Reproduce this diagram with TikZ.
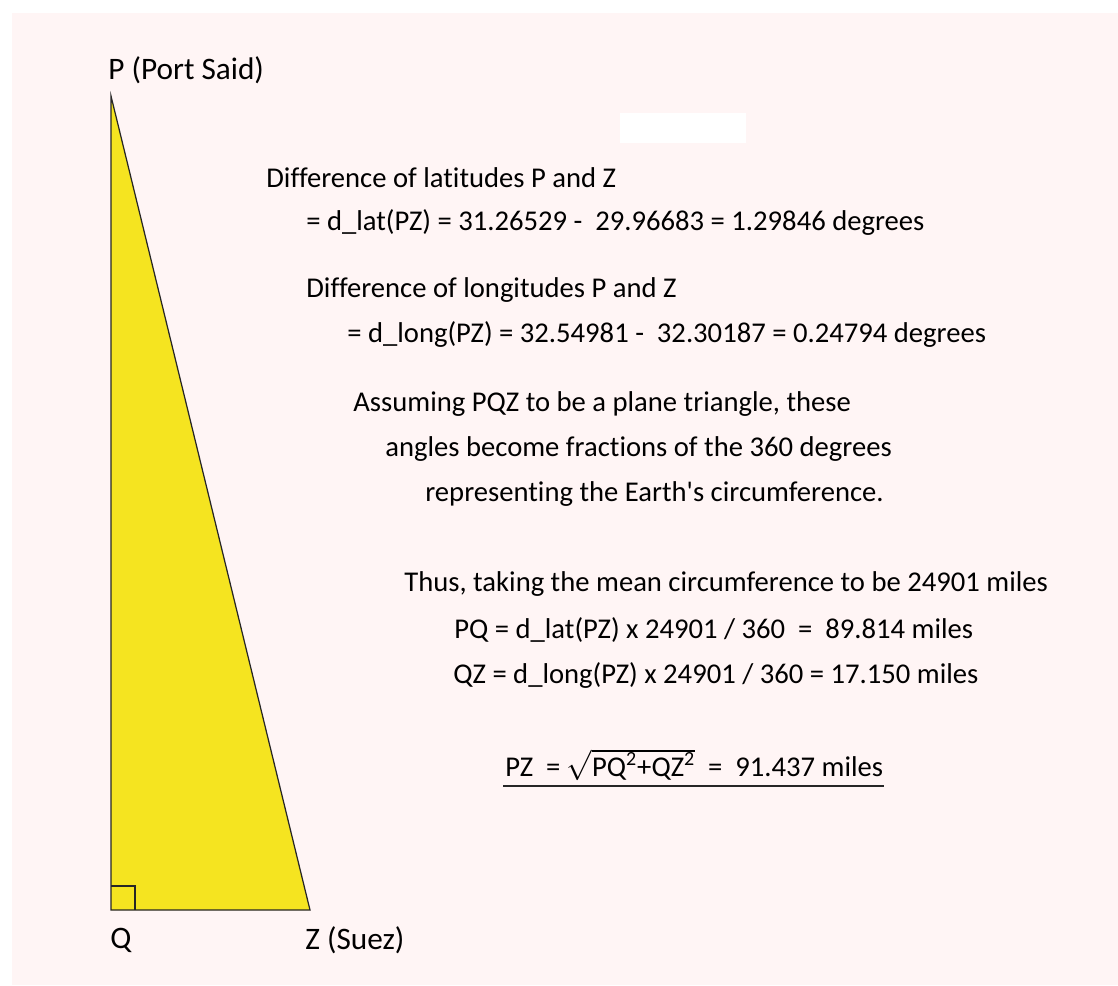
\documentclass[tikz,border=0pt]{standalone}
\usepackage{fontspec}
\setmainfont{Carlito}[Ligatures={TeX,NoCommon}]
\usetikzlibrary{positioning,calc}
\definecolor{bgpink}{RGB}{255,245,245}
\definecolor{triyellow}{RGB}{245,228,32}

\begin{document}
\begin{tikzpicture}[
    x=0.02cm, y=-0.02cm,
    txt/.style={anchor=west, inner sep=0pt, font=\fontsize{16.3}{19}\selectfont},
    pointlabel/.style={anchor=west, inner sep=0pt, font=\fontsize{17.8}{20}\selectfont},
    edge/.style={draw=black!85, line width=0.7pt}
]
    \useasboundingbox (0,0) rectangle (1118,985);
    \fill[bgpink] (12,13) rectangle (1118,985);
    \fill[white] (620,113) rectangle (746,143);

    % the triangle
    \coordinate (P) at (111,96);
    \coordinate (Q) at (111,910);
    \coordinate (Z) at (310,910);
    \filldraw[fill=triyellow, edge, line join=miter] (P) -- (Q) -- (Z) -- cycle;
    \draw[edge] ($(Q)+(0,-24)$) -| ($(Q)+(24,0)$);

    \node[pointlabel] (plabel) at (108,70) {P (Port Said)};
    \node[pointlabel] (qlabel) at (110,940) {Q};
    \node[pointlabel] (zlabel) at (305,940) {Z (Suez)};

    % the working
    \node[txt] (lat) at (266,178) {Difference of latitudes P and Z};
    \node[txt] (latval) at (306,222) {= d\_lat(PZ) = 31.26529 -\ \ 29.96683 = 1.29846 degrees};
    \node[txt] (lon) at (306,290) {Difference of longitudes P and Z};
    \node[txt] (lonval) at (347,334) {= d\_long(PZ) = 32.54981 -\ \ 32.30187 = 0.24794 degrees};

    \node[txt] (plane1) at (353,404) {Assuming PQZ to be a plane triangle, these};
    \node[txt] (plane2) at (385,449) {angles become fractions of the 360 degrees};
    \node[txt] (plane3) at (425,494) {representing the Earth\textquotesingle s circumference.};

    \node[txt] (thus) at (404,584) {Thus, taking the mean circumference to be 24901 miles};
    \node[txt] (pq) at (454,630) {PQ = d\_lat(PZ) x 24901 / 360 \ = \ 89.814 miles};
    \node[txt] (qz) at (453,675) {QZ = d\_long(PZ) x 24901 / 360 = 17.150 miles};

    \node[txt] (pz) at (505,765) {PZ \ = $\sqrt{\mbox{PQ\textsuperscript{2}+QZ\textsuperscript{2}}}$ \ = \ 91.437 miles};
    \draw[black!85, line width=0.8pt] ($(pz.south west)+(-2,5)$) -- ($(pz.south east)+(1,5)$);
\end{tikzpicture}
\end{document}
